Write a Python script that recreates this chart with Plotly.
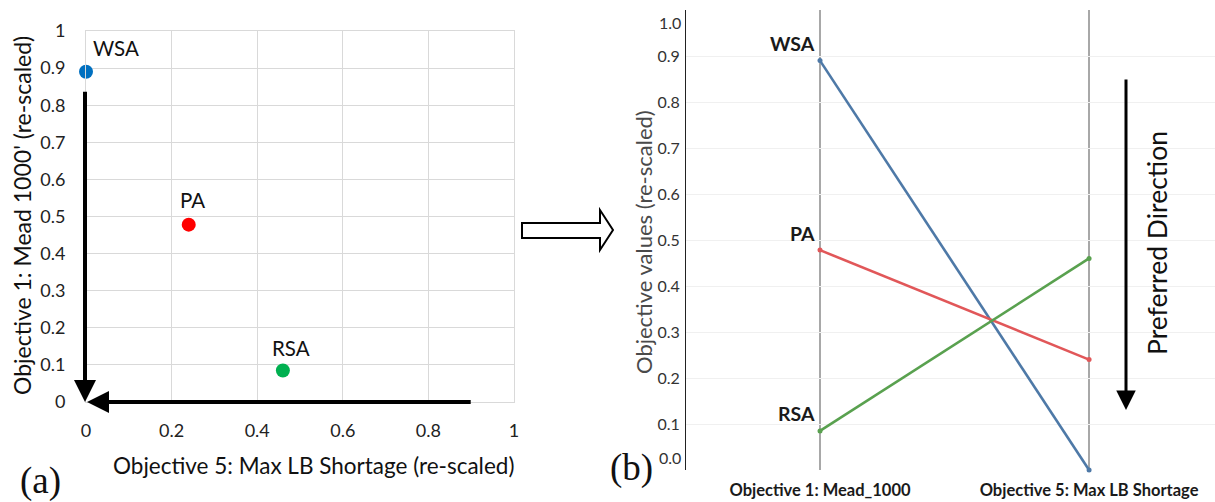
import plotly.graph_objects as go

W, H = 1215, 502

# ---------------- data ----------------
solutions = ["WSA", "PA", "RSA"]
obj5_shortage = [0.0, 0.24, 0.46]      # panel (a) x / panel (b) axis 2
obj1_mead = [0.89, 0.478, 0.085]       # panel (a) y / panel (b) axis 1
colors_a = ["#0070C0", "#FF0000", "#00B050"]
colors_b = ["#4E79A7", "#E15759", "#59A14F"]

a_x_ticks = [0, 0.2, 0.4, 0.6, 0.8, 1.0]
a_x_labels = ["0", "0.2", "0.4", "0.6", "0.8", "1"]
a_y_ticks = [0, 0.1, 0.2, 0.3, 0.4, 0.5, 0.6, 0.7, 0.8, 0.9, 1.0]
a_y_labels = ["0", "0.1", "0.2", "0.3", "0.4", "0.5", "0.6", "0.7", "0.8", "0.9", "1"]

b_axes = ["Objective 1: Mead_1000", "Objective 5: Max LB Shortage"]
b_y_ticks = [0.1, 0.2, 0.3, 0.4, 0.5, 0.6, 0.7, 0.8, 0.9]
b_y_labels = ["0.1", "0.2", "0.3", "0.4", "0.5", "0.6", "0.7", "0.8", "0.9"]
b_y_end_labels = ["0.0", "1.0"]

FONT = "Lato, 'Open Sans', sans-serif"


def px(x):
    return x / W


def py(y):
    return 1 - y / H


fig = go.Figure()

# ---------------- panel (a) ----------------
fig.add_trace(go.Scatter(
    x=obj5_shortage, y=obj1_mead, mode="markers",
    marker=dict(size=14, color=colors_a),
    cliponaxis=False, showlegend=False, xaxis="x", yaxis="y",
))

# ---------------- panel (b) ----------------
for name, v1, v5, c in zip(solutions, obj1_mead, obj5_shortage, colors_b):
    fig.add_trace(go.Scatter(
        x=[0, 1], y=[v1, v5], mode="lines+markers",
        line=dict(color=c, width=2.6), marker=dict(size=5, color=c),
        cliponaxis=False, showlegend=False, xaxis="x2", yaxis="y2",
    ))

ann = []
# point labels (a)
a_label_shift = [(5, 24, "left"), (4, 25, "center"), (8, 22, "center")]
for name, xv, yv, (xs, ys, anc) in zip(solutions, obj5_shortage, obj1_mead, a_label_shift):
    ann.append(dict(x=xv, y=yv, xref="x", yref="y", text=name, showarrow=False,
                    xanchor=anc, yanchor="middle", xshift=xs, yshift=ys,
                    font=dict(family=FONT, size=20.5, color="#111")))
# point labels (b)
for name, yv in zip(solutions, obj1_mead):
    ann.append(dict(x=0, y=yv, xref="x2", yref="y2", text="<b>%s</b>" % name,
                    showarrow=False, xanchor="right", yanchor="middle",
                    xshift=-3, yshift=17,
                    font=dict(family=FONT, size=19.5, color="#1a1a1a")))

# preferred-direction arrows in (a)
ann.append(dict(x=0, y=0, xref="x", yref="y", ax=0, ay=0.84, axref="x", ayref="y",
                text="", showarrow=True, arrowhead=2, arrowsize=1.1,
                arrowwidth=4, arrowcolor="black", xshift=-1))
ann.append(dict(x=0, y=0, xref="x", yref="y", ax=0.9, ay=0, axref="x", ayref="y",
                text="", showarrow=True, arrowhead=2, arrowsize=1.1,
                arrowwidth=4, arrowcolor="black", xshift=1))

# (b) end tick labels shifted inside the axis
ann.append(dict(x=px(683), y=0, xref="paper", yref="y2", text=b_y_end_labels[0],
                showarrow=False, xanchor="right", yanchor="middle", yshift=13,
                font=dict(family=FONT, size=16, color="#333")))
ann.append(dict(x=px(683), y=1, xref="paper", yref="y2", text=b_y_end_labels[1],
                showarrow=False, xanchor="right", yanchor="middle", yshift=-13,
                font=dict(family=FONT, size=16, color="#333")))

# axis titles and panel letters
ann.append(dict(x=px(313), y=py(465), xref="paper", yref="paper",
                text="Objective 5: Max LB Shortage (re-scaled)", showarrow=False,
                xanchor="center", yanchor="middle",
                font=dict(family=FONT, size=22.5, color="#111")))
ann.append(dict(x=px(22), y=py(216), xref="paper", yref="paper",
                text="Objective 1: Mead 1000' (re-scaled)", showarrow=False,
                textangle=-90, xanchor="center", yanchor="middle",
                font=dict(family=FONT, size=23, color="#111")))
ann.append(dict(x=px(643), y=py(242), xref="paper", yref="paper",
                text="Objective values (re-scaled)", showarrow=False,
                textangle=-90, xanchor="center", yanchor="middle",
                font=dict(family=FONT, size=22, color="#4a4a4a")))
ann.append(dict(x=px(40), y=py(481), xref="paper", yref="paper", text="(a)",
                showarrow=False, xanchor="center", yanchor="middle",
                font=dict(family="Liberation Serif, serif", size=37, color="#111")))
ann.append(dict(x=px(631), y=py(468), xref="paper", yref="paper", text="(b)",
                showarrow=False, xanchor="center", yanchor="middle",
                font=dict(family="Liberation Serif, serif", size=37, color="#111")))
ann.append(dict(x=px(1157), y=py(243), xref="paper", yref="paper",
                text="Preferred Direction", showarrow=False, textangle=-90,
                xanchor="center", yanchor="middle",
                font=dict(family=FONT, size=26.5, color="#111")))
# preferred direction arrow (b)
ann.append(dict(x=px(1126), y=py(410), xref="paper", yref="paper",
                ax=0, ay=-332, text="", showarrow=True, arrowhead=2,
                arrowsize=1.3, arrowwidth=3, arrowcolor="black"))

# hollow arrow between panels
def P(x, y):
    return "%f,%f" % (px(x), py(y))

arrow_path = "M %s L %s L %s L %s L %s L %s L %s Z" % (
    P(522, 223), P(600, 223), P(600, 210), P(613, 230),
    P(600, 250), P(600, 238), P(522, 238))

fig.update_layout(
    width=W, height=H, margin=dict(l=0, r=0, t=0, b=0, autoexpand=False),
    paper_bgcolor="white", plot_bgcolor="white",
    annotations=ann,
    shapes=[dict(type="path", path=arrow_path, xref="paper", yref="paper",
                 line=dict(color="black", width=2), fillcolor="white")],
    xaxis=dict(domain=[px(86), px(514)], range=[0, 1], tickvals=a_x_ticks,
               ticktext=a_x_labels, showgrid=True, gridcolor="#d9d9d9",
               zeroline=False, showline=True, linecolor="#d9d9d9", mirror=True,
               ticks="", ticklabelstandoff=12, automargin=False,
               tickfont=dict(family=FONT, size=18, color="#222"), anchor="y"),
    yaxis=dict(domain=[py(402), py(31)], range=[0, 1], tickvals=a_y_ticks,
               ticktext=a_y_labels, showgrid=True, gridcolor="#d9d9d9",
               zeroline=False, showline=True, linecolor="#d9d9d9", mirror=True,
               ticks="", ticklabelstandoff=16, automargin=False,
               tickfont=dict(family=FONT, size=18, color="#222"), anchor="x"),
    xaxis2=dict(domain=[px(686), 1], range=[-0.498, 1.468], tickvals=[0, 1],
                ticktext=["<b>%s</b>" % t for t in b_axes], showgrid=True,
                gridcolor="#a8a8a8", gridwidth=2, zeroline=False, showline=False,
                ticks="", ticklabelstandoff=8, automargin=False,
                tickfont=dict(family=FONT, size=16.5, color="#1a1a1a"), anchor="y2"),
    yaxis2=dict(domain=[py(470), py(10)], range=[0, 1], tickvals=b_y_ticks,
                ticktext=b_y_labels, showgrid=True, gridcolor="#f0f0f0",
                zeroline=False, showline=True, linecolor="#222", linewidth=1,
                ticks="", ticklabelstandoff=2, automargin=False,
                tickfont=dict(family=FONT, size=16, color="#333"), anchor="x2"),
)

fig.write_html("out.html")
